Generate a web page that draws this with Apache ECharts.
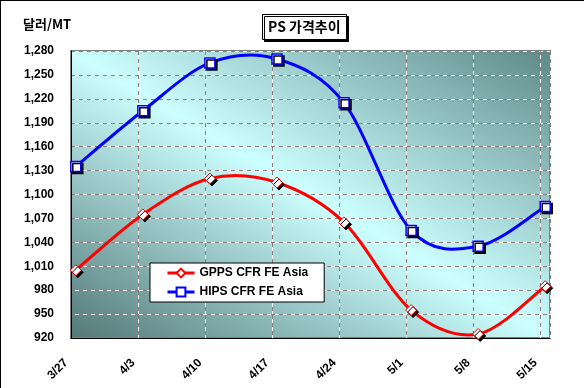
<!DOCTYPE html>
<html>
<head>
<meta charset="utf-8">
<script src="https://cdn.jsdelivr.net/npm/echarts@6/dist/echarts.min.js"></script>
<style>
  html, body { margin: 0; padding: 0; background: #fff; }
  #chart { width: 584px; height: 388px; }
</style>
</head>
<body>
<div id="chart"></div>
<script>
// ---- data ----
const dates = ['3/27', '4/3', '4/10', '4/17', '4/24', '5/1', '5/8', '5/15'];
const gppsValues = [1005, 1075, 1120, 1115, 1065, 955, 925, 985];
const hipsValues = [1135, 1205, 1265, 1270, 1215, 1055, 1035, 1085];
const seriesNames = ['GPPS CFR FE Asia', 'HIPS CFR FE Asia'];
const yMin = 920, yMax = 1280, yStep = 30;
const xStepDays = 7;
const titleText = 'PS 가격추이';
const unitText = '달러/MT';

// ---- helpers ----
const DAY = 864e5;
const baseTime = Date.UTC(2000, 2, 27);
function dayNumber(s) {
  const p = s.split('/').map(Number);
  return (Date.UTC(2000, p[0] - 1, p[1]) - baseTime) / DAY;
}
function dayLabel(v) {
  const d = new Date(baseTime + v * DAY);
  return (d.getUTCMonth() + 1) + '/' + d.getUTCDate();
}
const xMax = dayNumber(dates[dates.length - 1]) + 1;
// each date occupies one day slot; the point sits in the middle of its slot
const toPoints = vals => dates.map((d, i) => [dayNumber(d) + 0.5, vals[i]]);

const FONT = '"Liberation Sans", Arial, sans-serif';
const KFONT = '"Noto Sans CJK KR", "Liberation Sans", sans-serif';

const chart = echarts.init(document.getElementById('chart'), null, { renderer: 'canvas' });

const markerShadow = { shadowColor: '#000', shadowOffsetX: 2, shadowOffsetY: 2, shadowBlur: 0 };

// Catmull-Rom style smoothed curve (spreadsheet-like smoothing) drawn through
// the pixel positions that the axes give for the data points.
function smoothCurve(points, color) {
  return function (params, api) {
    if (params.dataIndex !== 0) return null;
    const px = points.map(p => api.coord(p));
    const n = px.length;
    const children = [];
    for (let i = 0; i < n - 1; i++) {
      const p0 = px[Math.max(i - 1, 0)], p1 = px[i], p2 = px[i + 1], p3 = px[Math.min(i + 2, n - 1)];
      children.push({
        type: 'bezierCurve',
        shape: {
          x1: p1[0], y1: p1[1], x2: p2[0], y2: p2[1],
          cpx1: p1[0] + (p2[0] - p0[0]) / 6, cpy1: p1[1] + (p2[1] - p0[1]) / 6,
          cpx2: p2[0] - (p3[0] - p1[0]) / 6, cpy2: p2[1] - (p3[1] - p1[1]) / 6
        },
        style: { stroke: color, lineWidth: 3, fill: null, lineCap: 'round' }
      });
    }
    return { type: 'group', children: children };
  };
}

const gppsPts = toPoints(gppsValues);
const hipsPts = toPoints(hipsValues);

const option = {
  animation: false,
  backgroundColor: '#fff',
  graphic: [
    { type: 'line', shape: { x1: 0, y1: 0.5, x2: 584, y2: 0.5 }, style: { stroke: '#000', lineWidth: 1 }, silent: true },
    { type: 'line', shape: { x1: 0.5, y1: 0, x2: 0.5, y2: 388 }, style: { stroke: '#000', lineWidth: 1 }, silent: true }
  ],
  title: [
    {
      text: titleText,
      left: 262, top: 14,
      padding: [5, 6, 5, 6],
      backgroundColor: '#fff',
      borderColor: '#000', borderWidth: 1,
      shadowColor: '#000', shadowOffsetX: 2, shadowOffsetY: 2, shadowBlur: 0,
      textStyle: { fontFamily: KFONT, fontSize: 14, fontWeight: 'bold', color: '#000', lineHeight: 16 }
    },
    {
      text: unitText,
      left: 23, top: 18, padding: 0,
      textStyle: { fontFamily: KFONT, fontSize: 13, fontWeight: 'bold', color: '#000' }
    }
  ],
  grid: {
    left: 71, top: 51, width: 479, height: 287,
    show: true,
    borderColor: '#808080', borderWidth: 2,
    backgroundColor: new echarts.graphic.LinearGradient(0.236, 1.236, 0.764, -0.236, [
      { offset: 0, color: '#527777' },
      { offset: 0.5, color: '#ccffff' },
      { offset: 1, color: '#5e8888' }
    ])
  },
  legend: {
    orient: 'vertical',
    left: 150, top: 263,
    padding: [4, 16, 4, 16],
    itemWidth: 27, itemHeight: 11, itemGap: 7,
    backgroundColor: '#fff', borderColor: '#000', borderWidth: 1,
    textStyle: { fontFamily: FONT, fontSize: 12, fontWeight: 'bold', color: '#000' },
    itemStyle: { shadowColor: 'rgba(0,0,0,0)', shadowOffsetX: 0, shadowOffsetY: 0 },
    lineStyle: { opacity: 1, width: 3 },
    data: seriesNames
  },
  xAxis: [
    {
      type: 'value', min: 0, max: xMax, interval: xStepDays,
      axisLine: { show: true, onZero: false, lineStyle: { color: '#000', width: 1 } },
      axisTick: { show: false },
      axisLabel: {
        rotate: 45, margin: 18, padding: [0, 7, 0, 0],
        fontFamily: FONT, fontSize: 12, fontWeight: 'bold', color: '#000',
        showMaxLabel: false,
        formatter: v => (v >= xMax ? '' : dayLabel(v))
      },
      splitLine: { show: true, lineStyle: { color: '#808080', type: [4, 4], width: 1 } },
      z: 3
    },
    {
      type: 'value', min: 0, max: xMax, interval: xStepDays, position: 'bottom',
      axisLine: { show: false }, axisTick: { show: false }, axisLabel: { show: false },
      splitLine: { show: true, lineStyle: { color: '#ffffff', type: [4, 4], dashOffset: 4, width: 1 } }
    }
  ],
  yAxis: [
    {
      type: 'value', min: yMin, max: yMax, interval: yStep,
      axisLine: { show: true, lineStyle: { color: '#000', width: 1 } },
      axisTick: { show: false },
      axisLabel: {
        margin: 17, fontFamily: FONT, fontSize: 12, fontWeight: 'bold', color: '#000',
        formatter: v => v.toLocaleString('en-US')
      },
      splitLine: { show: true, lineStyle: { color: '#808080', type: [4, 4], width: 1 } },
      z: 3
    },
    {
      type: 'value', min: yMin, max: yMax, interval: yStep, position: 'left',
      axisLine: { show: false }, axisTick: { show: false }, axisLabel: { show: false },
      splitLine: { show: true, lineStyle: { color: '#ffffff', type: [4, 4], dashOffset: 4, width: 1 } }
    }
  ],
  series: [
    {
      name: 'gpps-curve', type: 'custom', data: gppsPts, encode: { x: 0, y: 1 },
      renderItem: smoothCurve(gppsPts, '#ff0000'), silent: true, z: 4
    },
    {
      name: 'hips-curve', type: 'custom', data: hipsPts, encode: { x: 0, y: 1 },
      renderItem: smoothCurve(hipsPts, '#0000ff'), silent: true, z: 4
    },
    {
      name: seriesNames[0], type: 'line',
      data: gppsPts,
      symbol: 'diamond', symbolSize: 11,
      lineStyle: { color: '#ff0000', width: 3, opacity: 0 },
      itemStyle: Object.assign({ color: '#fff', borderColor: '#ff0000', borderWidth: 1 }, markerShadow),
      z: 5
    },
    {
      name: seriesNames[1], type: 'line',
      data: hipsPts,
      symbol: 'rect', symbolSize: 10,
      lineStyle: { color: '#0000ff', width: 3, opacity: 0 },
      itemStyle: Object.assign({ color: '#fff', borderColor: '#0000ff', borderWidth: 1.5 }, markerShadow),
      z: 5
    }
  ]
};
chart.setOption(option);
</script>
</body>
</html>
